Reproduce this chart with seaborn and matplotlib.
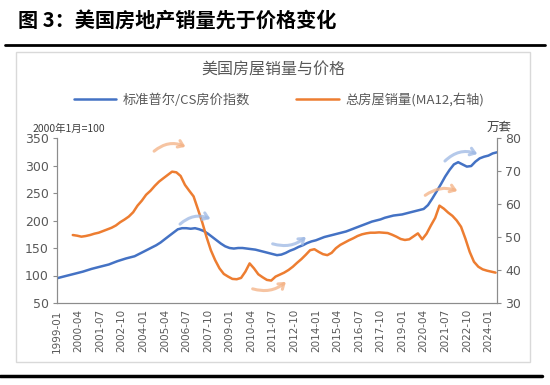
import matplotlib
matplotlib.use('Agg')
import matplotlib.pyplot as plt
import matplotlib.dates as mdates
from matplotlib.lines import Line2D
from matplotlib.patches import Rectangle, FancyArrowPatch
import seaborn as sns
import pandas as pd

# ---------- data (quarterly readings) ----------
PRICE_START = '1999-01-01'
price_vals = [95, 97, 99, 101, 103, 105, 107, 109.5, 112, 114, 116, 118,
              120, 123, 126, 128.5, 131, 133, 135, 139, 143, 147, 151, 155,
              160, 166, 172, 178, 184, 186, 186, 185, 186, 184, 181, 176,
              170, 164, 158, 153, 150, 149, 150, 150, 149, 148, 147, 145,
              143, 141, 139, 137, 138, 141, 145, 148, 152, 155, 159, 162,
              164, 167, 170, 172, 174, 176, 178, 180, 183, 186, 189, 192,
              195, 198, 200, 202, 205, 207, 209, 210, 211, 213, 215, 217,
              219, 221, 228, 240, 253, 266, 280, 292, 302, 306, 302, 298,
              299, 307, 313, 316, 318, 322, 324]

SALES_START = '1999-12-01'
sales_vals = [50.6, 50.4, 50.1, 50.3, 50.6, 51.0, 51.3, 51.8, 52.3, 52.8,
              53.5, 54.5, 55.3, 56.2, 57.5, 59.5, 61.0, 62.8, 64.0, 65.5,
              66.8, 67.8, 68.8, 69.8, 69.6, 68.5, 65.8, 64.0, 62.3, 58.5,
              54.5, 50.0, 46.0, 43.0, 40.5, 38.8, 38.0, 37.3, 37.2, 37.6,
              39.5, 42.0, 40.5, 38.7, 37.8, 37.0, 36.8, 38.0, 38.6, 39.2,
              40.0, 41.0, 42.2, 43.3, 44.6, 46.0, 46.3, 45.5, 44.8, 44.5,
              45.2, 46.6, 47.6, 48.3, 49.0, 49.6, 50.3, 50.8, 51.1, 51.3,
              51.3, 51.4, 51.3, 51.2, 50.7, 50.1, 49.4, 49.1, 49.3, 50.2,
              51.1, 49.3, 51.0, 53.5, 55.8, 59.5, 58.6, 57.4, 56.4, 55.0,
              53.1, 49.5, 45.5, 42.5, 41.0, 40.2, 39.8, 39.5, 39.2]

price_label = '标准普尔/CS房价指数'
sales_label = '总房屋销量(MA12,右轴)'
left_ticks = [50, 100, 150, 200, 250, 300, 350]
right_ticks = [30, 40, 50, 60, 70, 80]

BLUE = '#4472C4'
ORANGE = '#ED7D31'
GREY = '#595959'

price = pd.DataFrame({'date': pd.date_range(PRICE_START, periods=len(price_vals), freq='3MS'),
                      'value': price_vals})
sales = pd.DataFrame({'date': pd.date_range(SALES_START, periods=len(sales_vals), freq='3MS'),
                      'value': sales_vals})

sns.set_style('white')
plt.rcParams['font.family'] = ['DejaVu Sans', 'Noto Sans CJK SC']
CJK = ['Noto Sans CJK SC', 'DejaVu Sans']

fig = plt.figure(figsize=(5.5, 3.85), dpi=100)
W, H = 550.0, 385.0

def fx(x):
    return x / W

def fy(y):
    return 1 - y / H

ax = fig.add_axes([fx(57), fy(303), (497 - 57) / W, (303 - 138) / H])
ax2 = ax.twinx()

sns.lineplot(data=price, x='date', y='value', ax=ax, color=BLUE, lw=1.8, legend=False)
sns.lineplot(data=sales, x='date', y='value', ax=ax2, color=ORANGE, lw=1.8, legend=False)

ax.set_xlim(pd.Timestamp('1999-01-01'), pd.Timestamp('2024-07-01'))
ax.set_ylim(50, 350)
ax2.set_ylim(30, 80)
ax.set_yticks(left_ticks)
ax2.set_yticks(right_ticks)
xt = pd.date_range('1999-01-01', '2024-01-01', freq='15MS')
ax.set_xticks(xt)
ax.xaxis.set_major_formatter(mdates.DateFormatter('%Y-%m'))
for a in (ax, ax2):
    a.set_xlabel('')
    a.set_ylabel('')
    for s in a.spines.values():
        s.set_color('#8c8c8c')
    a.spines['top'].set_visible(False)
ax.tick_params(axis='x', labelrotation=90, labelsize=7.5, colors=GREY,
               direction='inout', length=5, width=0.8, pad=2)
ax.tick_params(axis='y', labelsize=9, colors=GREY, direction='out', length=3, width=0.8, pad=3)
ax2.tick_params(axis='y', labelsize=9, colors=GREY, direction='out', length=3, width=0.8, pad=3)
ax.tick_params(axis='x', color='#8c8c8c')
ax.tick_params(axis='y', color='#8c8c8c')
ax2.tick_params(axis='y', color='#8c8c8c')

# axis unit labels
fig.text(fx(33), fy(129), '2000年1月=100', fontsize=7.5, color='#404040', va='center', ha='left', family=CJK)
fig.text(fx(499), fy(127), '万套', fontsize=9, color='#404040', va='center', ha='center', family=CJK)

# chart title and legend
fig.text(fx(273), fy(70), '美国房屋销量与价格', fontsize=11.5, color=GREY, ha='center', va='center', family=CJK)
handles = [Line2D([], [], color=BLUE, lw=1.8), Line2D([], [], color=ORANGE, lw=1.8)]
leg = fig.legend(handles, [price_label, sales_label], loc='center', bbox_to_anchor=(fx(279), fy(100)),
                 ncol=2, frameon=False, handlelength=3.2, columnspacing=3.5,
                 handletextpad=0.5, prop={'family': CJK, 'size': 9.5})
for t in leg.get_texts():
    t.set_color(GREY)

# curved hint arrows
arrows = [((152, 153), (188, 148), -0.35, '#F4B183'),
          ((178, 226), (213, 220), -0.35, '#9DB8E4'),
          ((250, 288), (288, 280), 0.3, '#F4B183'),
          ((270, 243), (308, 235), 0.3, '#9DB8E4'),
          ((423, 197), (460, 192), -0.3, '#F4B183'),
          ((443, 163), (480, 155), -0.35, '#9DB8E4')]
for (x0, y0), (x1, y1), rad, c in arrows:
    fig.add_artist(FancyArrowPatch(
        (fx(x0), fy(y0)), (fx(x1), fy(y1)), transform=fig.transFigure,
        connectionstyle=f'arc3,rad={rad}', arrowstyle='->,head_length=3.5,head_width=2.5',
        color=c, lw=2.2, alpha=0.75))

# frame and header
fig.add_artist(Rectangle((fx(16), fy(362)), (530 - 16) / W, (362 - 52) / H, transform=fig.transFigure,
                         fill=False, edgecolor='#d9d9d9', lw=1))
fig.text(fx(18), fy(21), '图 3：美国房地产销量先于价格变化', fontsize=14.5, weight='bold',
         color='black', ha='left', va='center', family=CJK)
fig.add_artist(Line2D([fx(5), fx(545)], [fy(45), fy(45)], color='black', lw=2, transform=fig.transFigure))
fig.add_artist(Line2D([fx(0), fx(542)], [fy(376), fy(376)], color='black', lw=2.5, transform=fig.transFigure))

fig.savefig('out.png', dpi=100)
